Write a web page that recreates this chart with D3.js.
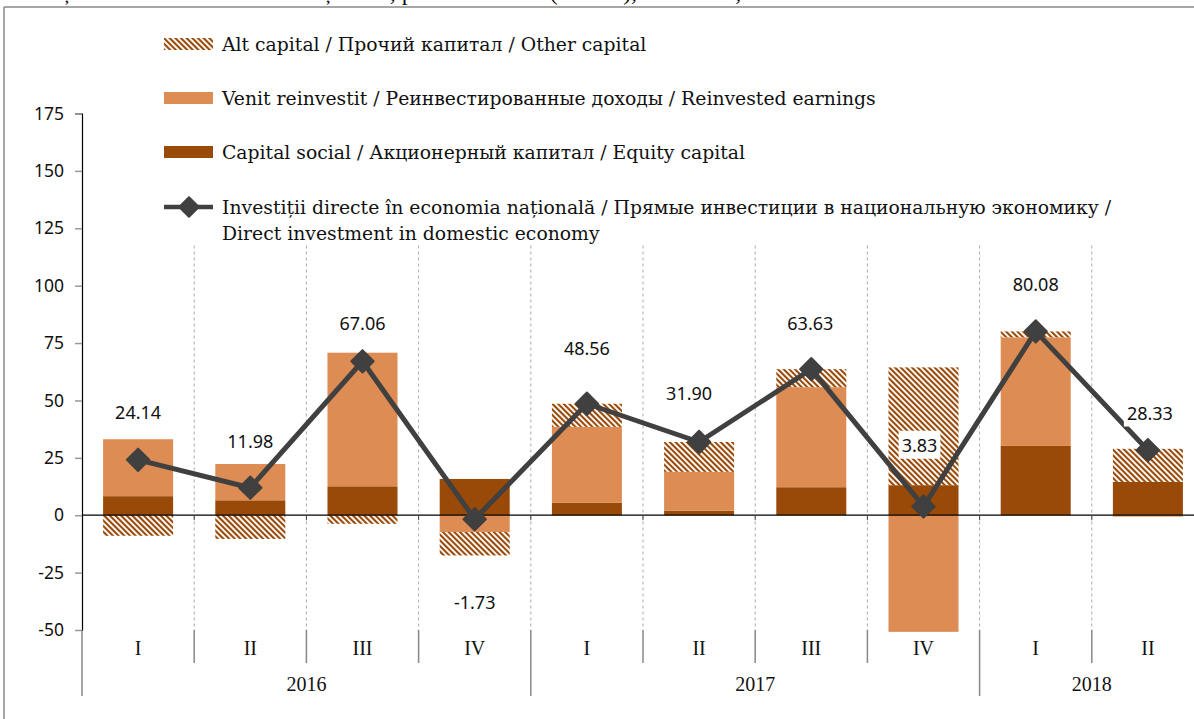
<!DOCTYPE html>
<html>
<head>
<meta charset="utf-8">
<script src="https://cdn.jsdelivr.net/npm/d3@7"></script>
<style>
    body { margin: 0; background: #fff; }
    svg { display: block; }
</style>
</head>
<body>
<svg id="chart" width="1194" height="719"></svg>
<script>
// quarters and years
let quarters = ["I", "II", "III", "IV", "I", "II", "III", "IV", "I", "II"];
let years = [
    {name: "2016", from: 0, to: 3},
    {name: "2017", from: 4, to: 7},
    {name: "2018", from: 8, to: 9}
];

// series values (mil. USD)
let equityCapital = [8.3, 6.5, 12.6, 15.8, 5.4, 2.0, 12.2, 13.1, 30.2, 14.5];
let reinvestedEarnings = [24.8, 15.8, 58.2, -7.3, 33.1, 16.9, 43.6, -50.8, 47.3, -0.6];
let otherCapital = [-8.96, -10.32, -3.74, -10.23, 10.06, 13.0, 7.83, 51.3, 2.58, 14.43];
let directInvestment = [24.14, 11.98, 67.06, -1.73, 48.56, 31.90, 63.63, 3.83, 80.08, 28.33];

let yTicks = [-50, -25, 0, 25, 50, 75, 100, 125, 150, 175];

// label placement relative to the marker (layout only)
let labelDx = [0, 0, 0, 0, 0, -10, -1, -4, 0, 2];
let labelDy = [-47, -46, -38, 83, -55, -48, -45, -61, -47, -37];

let legendItems = [
    {key: "other", text: ["Alt capital / Прочий капитал / Other capital"]},
    {key: "reinvested", text: ["Venit reinvestit / Реинвестированные доходы / Reinvested earnings"]},
    {key: "equity", text: ["Capital social / Акционерный капитал / Equity capital"]},
    {key: "line", text: ["Investiții directe în economia națională / Прямые инвестиции в национальную экономику /",
        "Direct investment in domestic economy"]}
];

let COLORS = {equity: "#994908", reinvested: "#dd8c53", hatch: "#994908", line: "#404040"};
let SERIF = "'Liberation Serif', 'DejaVu Serif', serif";
let LEGEND_FONT = "'DejaVu Serif', 'Liberation Serif', serif";
let SANS = "'Noto Sans', 'Open Sans', sans-serif";

let svg = d3.select("#chart");

// stripes for "other capital"
let defs = svg.append("defs");
let pattern = defs.append("pattern")
    .attr("id", "hatch")
    .attr("patternUnits", "userSpaceOnUse")
    .attr("width", 4)
    .attr("height", 4)
    .attr("patternTransform", "rotate(-45)");
pattern.append("rect").attr("width", 4).attr("height", 4).attr("fill", "#fff");
pattern.append("rect").attr("width", 2.1).attr("height", 4).attr("fill", COLORS.hatch);

// title, mostly cut off by the top edge of the page
svg.append("text")
    .attr("x", -2)
    .attr("y", 0)
    .style("font-family", SERIF)
    .style("font-size", "24px")
    .style("fill", "#111")
    .text("Investițiile directe în economia națională, pe instrumente (fluxuri), mil. USD, trimestrial");

// frame
svg.append("line").attr("x1", 4).attr("x2", 1194).attr("y1", 7).attr("y2", 7)
    .style("stroke", "#888").style("stroke-width", 1.5);
svg.append("line").attr("x1", 4).attr("x2", 4).attr("y1", 7).attr("y2", 719)
    .style("stroke", "#888").style("stroke-width", 1.5);

// scales
let x = d3.scaleBand()
    .domain(d3.range(quarters.length))
    .range([82, 1204])
    .paddingInner(0.376)
    .paddingOuter(0.188);
let step = x.step();
let boundary = function(i){ return x.range()[0] + i * step; };

let y = d3.scaleLinear()
    .domain([-50, 175])
    .range([630, 113.5]);

// dashed vertical grid lines between quarters
svg.append("g")
    .selectAll("line")
    .data(d3.range(1, quarters.length))
    .enter()
    .append("line")
    .attr("x1", function(i){ return boundary(i); })
    .attr("x2", function(i){ return boundary(i); })
    .attr("y1", y(175))
    .attr("y2", y(-50))
    .style("stroke", "#aaa")
    .style("stroke-width", 1)
    .style("stroke-dasharray", "3,3");

// stacked bars (diverging)
let table = quarters.map(function(q, i){
    return {i: i, equity: equityCapital[i], reinvested: reinvestedEarnings[i], other: otherCapital[i]};
});
let stack = d3.stack()
    .keys(["equity", "reinvested", "other"])
    .offset(d3.stackOffsetDiverging);
let layers = stack(table);

svg.append("g")
    .selectAll("g")
    .data(layers)
    .enter()
    .append("g")
    .attr("fill", function(d){
        if (d.key === "other") return "url(#hatch)";
        return COLORS[d.key];
    })
    .selectAll("rect")
    .data(function(d){ return d; })
    .enter()
    .append("rect")
    .attr("x", function(d){ return x(d.data.i); })
    .attr("width", x.bandwidth())
    .attr("y", function(d){ return y(Math.max(d[0], d[1])); })
    .attr("height", function(d){ return Math.abs(y(d[0]) - y(d[1])); });

// y axis
let yAxis = d3.axisLeft(y)
    .tickValues(yTicks)
    .tickFormat(function(d){ return String(d); })
    .tickSize(7)
    .tickPadding(11);
let yAxisG = svg.append("g")
    .attr("transform", "translate(82,0)")
    .call(yAxis);
yAxisG.select(".domain").style("stroke", "#000").style("stroke-width", 1.2);
yAxisG.selectAll(".tick line").style("stroke", "#999").style("stroke-width", 1.5);
yAxisG.selectAll(".tick text")
    .style("font-family", SANS)
    .style("font-size", "17.5px")
    .style("fill", "#111");

// zero line with small ticks
svg.append("line")
    .attr("x1", 82).attr("x2", 1204)
    .attr("y1", y(0)).attr("y2", y(0))
    .style("stroke", "#000").style("stroke-width", 1.2);
svg.append("g")
    .selectAll("line")
    .data(d3.range(1, quarters.length))
    .enter()
    .append("line")
    .attr("x1", function(i){ return boundary(i); })
    .attr("x2", function(i){ return boundary(i); })
    .attr("y1", y(0))
    .attr("y2", y(0) + 5)
    .style("stroke", "#444")
    .style("stroke-width", 1);

// category axis below the plot
let isYearStart = function(i){
    return i === quarters.length || years.some(function(yr){ return yr.from === i; });
};
svg.append("g")
    .selectAll("line")
    .data(d3.range(0, quarters.length + 1))
    .enter()
    .append("line")
    .attr("x1", function(i){ return boundary(i); })
    .attr("x2", function(i){ return boundary(i); })
    .attr("y1", y(-50))
    .attr("y2", function(i){ return isYearStart(i) ? 696 : 663; })
    .style("stroke", "#888")
    .style("stroke-width", 1.5);

svg.append("g")
    .selectAll("text")
    .data(quarters)
    .enter()
    .append("text")
    .attr("x", function(d, i){ return x(i) + x.bandwidth() / 2; })
    .attr("y", 655)
    .attr("text-anchor", "middle")
    .style("font-family", SERIF)
    .style("font-size", "20px")
    .style("fill", "#111")
    .text(function(d){ return d; });

svg.append("g")
    .selectAll("text")
    .data(years)
    .enter()
    .append("text")
    .attr("x", function(d){ return (boundary(d.from) + boundary(d.to + 1)) / 2; })
    .attr("y", 691)
    .attr("text-anchor", "middle")
    .style("font-family", SERIF)
    .style("font-size", "20px")
    .style("fill", "#111")
    .text(function(d){ return d.name; });

// legend with white background (hides the grid above the plot)
let legend = svg.append("g");
legend.append("rect")
    .attr("x", 150).attr("y", 10)
    .attr("width", 990).attr("height", 235)
    .attr("fill", "#fff");

let legendRowY = [44, 98, 152, 207];
let diamond = d3.symbol(d3.symbolSquare, 190);
legendItems.forEach(function(item, k){
    let cy = legendRowY[k];
    if (item.key === "line") {
        legend.append("line")
            .attr("x1", 164).attr("x2", 213)
            .attr("y1", cy).attr("y2", cy)
            .style("stroke", COLORS.line).style("stroke-width", 4.5);
        legend.append("path")
            .attr("d", diamond())
            .attr("transform", `translate(189,${cy}) rotate(45)`)
            .style("fill", COLORS.line)
            .style("stroke", COLORS.line)
            .style("stroke-width", 2)
            .style("stroke-linejoin", "round");
    } else {
        legend.append("rect")
            .attr("x", 164).attr("y", cy - 6)
            .attr("width", 49).attr("height", 12)
            .attr("fill", item.key === "other" ? "url(#hatch)" : COLORS[item.key]);
    }
    item.text.forEach(function(t, j){
        legend.append("text")
            .attr("x", 222)
            .attr("y", cy + 7 + j * 26)
            .style("font-family", LEGEND_FONT)
            .style("font-size", "18.8px")
            .style("fill", "#111")
            .text(t);
    });
});

// total direct investment line
let cx = function(i){ return x(i) + x.bandwidth() / 2; };
let line = d3.line()
    .x(function(d, i){ return cx(i); })
    .y(function(d){ return y(d); });

svg.append("path")
    .datum(directInvestment)
    .attr("d", line)
    .style("fill", "none")
    .style("stroke", COLORS.line)
    .style("stroke-width", 5)
    .style("stroke-linejoin", "round");

let marker = d3.symbol(d3.symbolSquare, 250);
svg.append("g")
    .selectAll("path")
    .data(directInvestment)
    .enter()
    .append("path")
    .attr("d", marker())
    .attr("transform", function(d, i){ return `translate(${cx(i)},${y(d)}) rotate(45)`; })
    .style("fill", COLORS.line)
    .style("stroke", COLORS.line)
    .style("stroke-width", 2)
    .style("stroke-linejoin", "round");

// value labels on white boxes
let labels = svg.append("g")
    .selectAll("g")
    .data(directInvestment)
    .enter()
    .append("g")
    .attr("transform", function(d, i){
        return `translate(${cx(i) + labelDx[i]},${y(d) + labelDy[i]})`;
    });
labels.append("rect").attr("fill", "#fff");
labels.append("text")
    .attr("text-anchor", "middle")
    .attr("dy", "0.35em")
    .style("font-family", SANS)
    .style("font-size", "18px")
    .style("fill", "#111")
    .text(function(d){ return d.toFixed(2); });
labels.each(function(){
    let g = d3.select(this);
    let b = g.select("text").node().getBBox();
    g.select("rect")
        .attr("x", b.x - 3).attr("y", b.y - 2)
        .attr("width", b.width + 6).attr("height", b.height + 4);
});
</script>
</body>
</html>
